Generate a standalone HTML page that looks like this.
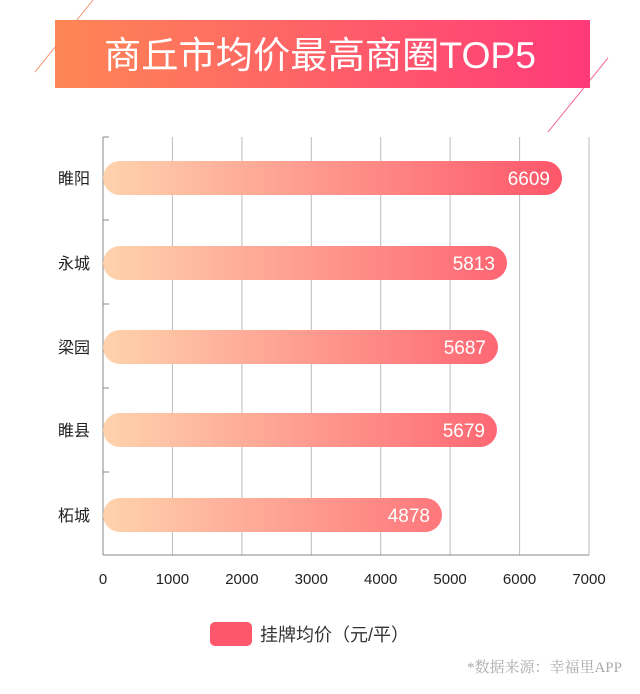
<!DOCTYPE html>
<html><head><meta charset="utf-8"><style>
body{margin:0;background:#fff;width:640px;height:689px;overflow:hidden;font-family:"Liberation Sans","Noto Sans CJK SC",sans-serif;}
</style></head><body>
<svg width="640" height="689" viewBox="0 0 640 689" xmlns="http://www.w3.org/2000/svg" font-family="Liberation Sans, Noto Sans CJK SC, sans-serif">
<defs>
<linearGradient id="tg" x1="0" x2="1" y1="0" y2="0"><stop offset="0" stop-color="#fe8655"/><stop offset="1" stop-color="#ff3a7a"/></linearGradient>
<linearGradient id="bg" gradientUnits="userSpaceOnUse" x1="103" x2="562" y1="0" y2="0"><stop offset="0" stop-color="#fed3ad"/><stop offset="1" stop-color="#fe566a"/></linearGradient>
</defs>
<line x1="93" y1="0" x2="35" y2="72" stroke="#f59a7a" stroke-width="1"/>
<line x1="608" y1="58" x2="548" y2="132" stroke="#f56a90" stroke-width="1"/>
<rect x="55" y="20" width="535" height="68" fill="url(#tg)"/>
<text x="320" y="68" text-anchor="middle" fill="#fff" font-size="37" textLength="432" lengthAdjust="spacingAndGlyphs">商丘市均价最高商圈TOP5</text>
<g stroke="#bbb" stroke-width="1">
<line x1="172.4" y1="137" x2="172.4" y2="555"/><line x1="241.9" y1="137" x2="241.9" y2="555"/><line x1="311.3" y1="137" x2="311.3" y2="555"/><line x1="380.7" y1="137" x2="380.7" y2="555"/><line x1="450.1" y1="137" x2="450.1" y2="555"/><line x1="519.6" y1="137" x2="519.6" y2="555"/><line x1="589" y1="137" x2="589" y2="555"/>
</g>
<g stroke="#888" stroke-width="1">
<line x1="103" y1="137" x2="103" y2="555"/><line x1="103" y1="555" x2="589" y2="555"/>
<line x1="103" y1="137" x2="109" y2="137"/><line x1="103" y1="220" x2="109" y2="220"/><line x1="103" y1="304" x2="109" y2="304"/><line x1="103" y1="388" x2="109" y2="388"/><line x1="103" y1="472" x2="109" y2="472"/>
</g>
<g fill="url(#bg)">
<rect x="103" y="161" width="459" height="34" rx="17"/>
<rect x="103" y="246" width="404" height="34" rx="17"/>
<rect x="103" y="330" width="395" height="34" rx="17"/>
<rect x="103" y="413" width="394" height="34" rx="17"/>
<rect x="103" y="498" width="339" height="34" rx="17"/>
</g>
<g fill="#fff" font-size="19" text-anchor="end">
<text x="550" y="185">6609</text><text x="495" y="270">5813</text><text x="486" y="354">5687</text><text x="485" y="437">5679</text><text x="430" y="522">4878</text>
</g>
<g fill="#222" font-size="16" text-anchor="end">
<text x="90" y="184">睢阳</text><text x="90" y="269">永城</text><text x="90" y="353">梁园</text><text x="90" y="436">睢县</text><text x="90" y="521">柘城</text>
</g>
<g fill="#222" font-size="15" text-anchor="middle">
<text x="103" y="584">0</text><text x="172.4" y="584">1000</text><text x="241.9" y="584">2000</text><text x="311.3" y="584">3000</text><text x="380.7" y="584">4000</text><text x="450.1" y="584">5000</text><text x="519.6" y="584">6000</text><text x="589" y="584">7000</text>
</g>
<rect x="210" y="622" width="42" height="24" rx="5" fill="#fe566a"/>
<text x="260" y="641" font-size="18" fill="#333">挂牌均价（元/平）</text>
<text x="622" y="672" text-anchor="end" font-size="15" fill="#aaa" font-family="Liberation Serif, Noto Serif CJK SC, serif">*数据来源：幸福里APP</text>
</svg>
</body></html>
